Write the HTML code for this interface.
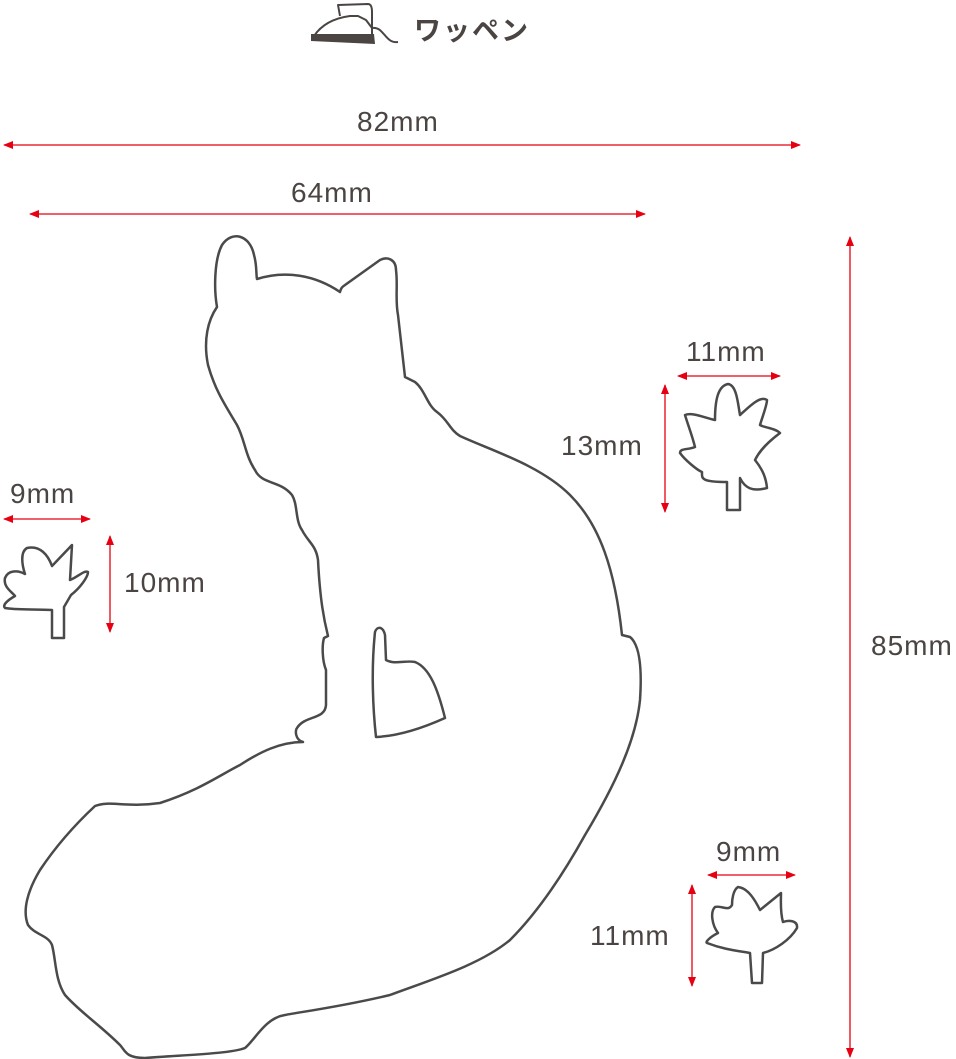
<!DOCTYPE html>
<html><head><meta charset="utf-8"><style>
body{margin:0;background:#fff;width:956px;height:1059px;overflow:hidden}
svg{display:block}
text{font-family:"Liberation Sans","Noto Sans CJK JP",sans-serif;fill:#4a4442;font-size:28px;letter-spacing:1px}
</style></head><body>
<svg width="956" height="1059" viewBox="0 0 956 1059">
<defs>
<marker id="a" viewBox="0 0 10 8" refX="9" refY="4" markerWidth="10" markerHeight="8" markerUnits="userSpaceOnUse" orient="auto-start-reverse"><path d="M0,0L10,4L0,8z" fill="#e60012"/></marker>
</defs>
<g stroke="#e60012" stroke-width="1.3" marker-start="url(#a)" marker-end="url(#a)">
<line x1="4" y1="145" x2="800" y2="145"/>
<line x1="30" y1="214" x2="645" y2="214"/>
<line x1="850" y1="237" x2="850" y2="1057"/>
<line x1="678" y1="376" x2="780" y2="376"/>
<line x1="665" y1="385" x2="665" y2="512"/>
<line x1="4" y1="519" x2="90" y2="519"/>
<line x1="110" y1="536" x2="110" y2="632"/>
<line x1="708" y1="875" x2="795" y2="875"/>
<line x1="692" y1="885" x2="692" y2="986"/>
</g>
<g fill="none" stroke="#4a4a4a" stroke-width="2.5" stroke-linejoin="round" stroke-linecap="round">
<path d="M217,307 C214,290 214,260 222,245 C232,230 250,235 254,255 C257,265 256,275 257,279 C285,270 315,275 340,292 C341,288 342,287 345,285 L380,260 C388,256 396,260 396,270 C398,285 395,300 398,315 L405,377 L415,382 C425,390 427,405 437,412 C448,420 450,430 460,436 C490,450 540,465 570,495 C600,525 615,570 622,635 L630,637 C640,645 642,670 640,700 C636,740 615,785 585,835 C560,880 535,915 510,940 C480,965 430,980 390,995 C340,1007 300,1012 285,1015 C265,1018 255,1040 245,1048 C230,1054 180,1055 145,1058 C125,1058 125,1050 120,1045 C100,1025 80,1012 65,995 C55,980 56,960 52,945 C48,935 35,935 28,925 C22,910 28,890 40,870 C60,840 80,820 95,806 C110,800 125,808 160,803 C200,790 220,775 240,765 C260,752 280,742 303,742 C295,740 295,730 297,728 C305,715 325,720 326,705 L326,670 C322,660 322,645 324,638 L328,636 C324,620 320,600 318,560 C316,545 308,542 302,530 C295,520 298,505 292,495 C280,480 262,485 255,470 C245,455 245,440 237,425 C225,405 215,390 208,365 C203,340 208,320 217,307 Z"/>
<path d="M375,632 C377,626 383,626 385,635 L386,660 C395,665 405,660 415,662 C430,668 438,690 445,718 C425,727 400,736 376,737 C373,710 371,670 375,632 Z"/>
<path d="M52,610 L52,638 L64,638 L64,607 L71,595 C80,588 88,577 88,572 C84,570 78,577 70,580 L72,545 L52,566 C48,555 40,545 27,548 C20,552 22,565 25,574 C18,570 8,570 5,578 C3,587 12,592 15,596 C8,600 2,605 5,608 C15,610 35,609 52,610 Z"/>
<path d="M727,482 L727,510 L740,510 L740,478 C745,488 752,492 767,488 C766,478 763,470 755,460 C760,450 768,442 780,433 C775,428 765,428 760,425 C763,415 767,405 767,400 C760,395 748,408 740,415 C738,405 737,385 728,384 C718,386 715,400 715,420 C705,418 693,412 685,415 C688,425 692,435 695,447 C688,450 680,448 680,453 C685,460 697,470 702,472 C702,478 700,482 727,482 Z"/>
<path d="M750,953 L752,983 L762,983 L763,953 C775,950 790,940 797,928 C798,920 788,920 783,922 C780,912 781,900 781,893 L760,910 C755,900 748,888 738,887 C733,890 732,900 732,905 C728,912 722,905 715,907 C710,912 712,925 718,933 C710,937 705,942 707,943 C725,950 740,951 750,953 Z"/>
</g>
<g fill="none" stroke="#4a4442" stroke-width="2" stroke-linejoin="round">
<path d="M340,16 L338,5 L368,4 C371,4 372,8 372,12 L372,40"/>
<path d="M314,36 C322,24 335,18 350,16 L358,16 L366,20 L372,28"/>
<path d="M372,28 C384,26 385,44 398,42"/>
</g>
<path d="M311,34 L374,34 L375,44 L311,41 Z" fill="#4a4442"/>
<text x="414" y="40" font-weight="bold" style="font-size:27px;letter-spacing:2px">ワッペン</text>
<text x="357" y="131">82mm</text>
<text x="291" y="202">64mm</text>
<text x="686" y="361">11mm</text>
<text x="561" y="455">13mm</text>
<text x="10" y="503">9mm</text>
<text x="124" y="592">10mm</text>
<text x="871" y="655">85mm</text>
<text x="716" y="861">9mm</text>
<text x="590" y="945">11mm</text>
</svg>
</body></html>
